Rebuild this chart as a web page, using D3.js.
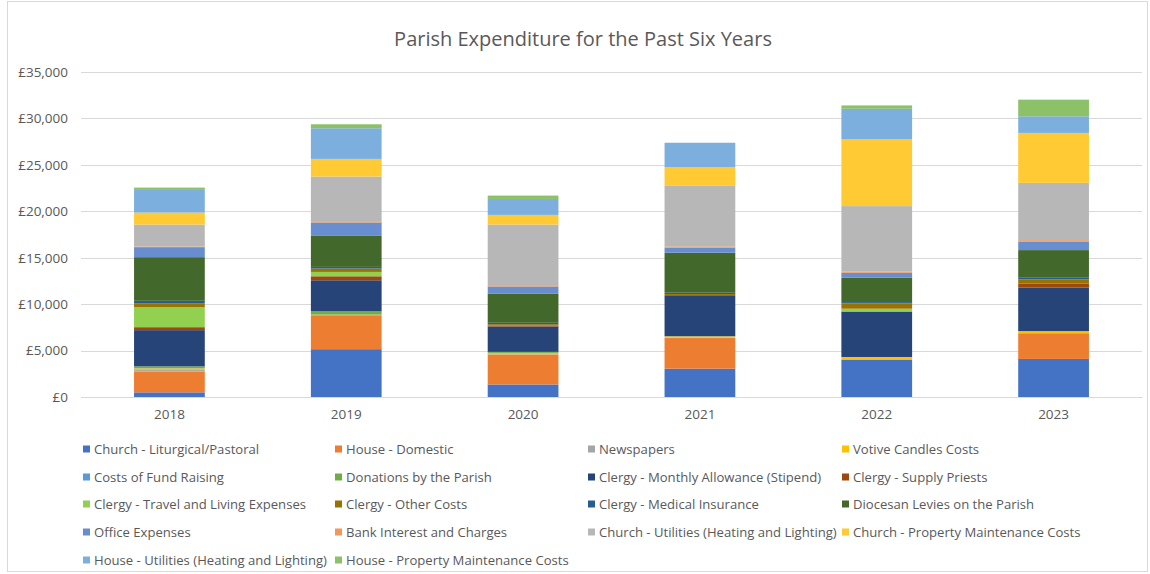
<!DOCTYPE html>
<html>
<head>
<meta charset="utf-8">
<script src="https://cdn.jsdelivr.net/npm/d3@7"></script>
<style>
  html, body { margin: 0; padding: 0; background: #fff; }
  svg { display: block; }
  text { font-family: "Open Sans", Carlito, Calibri, sans-serif; fill: #595959; }
</style>
</head>
<body>
<svg id="chart" width="1150" height="574"></svg>
<script>
// ---------- DATA ----------
const years = ["2018", "2019", "2020", "2021", "2022", "2023"];
const seriesNames = [
  "Church - Liturgical/Pastoral", "House - Domestic", "Newspapers", "Votive Candles Costs",
  "Costs of Fund Raising", "Donations by the Parish", "Clergy - Monthly Allowance (Stipend)", "Clergy - Supply Priests",
  "Clergy - Travel and Living Expenses", "Clergy - Other Costs", "Clergy - Medical Insurance", "Diocesan Levies on the Parish",
  "Office Expenses", "Bank Interest and Charges", "Church - Utilities (Heating and Lighting)", "Church - Property Maintenance Costs",
  "House - Utilities (Heating and Lighting)", "House - Property Maintenance Costs"
];
const seriesColors = [
  "#4472C4", "#ED7D31", "#A5A5A5", "#FFC000",
  "#5B9BD5", "#70AD47", "#264478", "#9E480E",
  "#92D050", "#997300", "#255E91", "#43682B",
  "#698ED0", "#F1975A", "#B7B7B7", "#FFCA33",
  "#7CAFDD", "#8CC168"
];
const churchLiturgical   = [500, 5150, 1350, 3050, 4000, 4100];
const houseDomestic      = [2250, 3650, 3230, 3300, 50, 2760];
const newspapers         = [150, 30, 30, 30, 30, 30];
const votiveCandles      = [180, 40, 140, 140, 200, 180];
const fundRaising        = [20, 0, 0, 0, 0, 0];
const donations          = [200, 360, 110, 30, 30, 30];
const clergyAllowance    = [3900, 3340, 2730, 4340, 4880, 4700];
const clergySupply       = [320, 430, 100, 100, 30, 430];
const clergyTravel       = [2150, 470, 0, 0, 290, 0];
const clergyOther        = [430, 360, 150, 100, 570, 430];
const clergyMedical      = [260, 180, 150, 140, 140, 180];
const diocesanLevies     = [4700, 3340, 3120, 4310, 2620, 2980];
const officeExpenses     = [1080, 1440, 790, 540, 540, 930];
const bankInterest       = [60, 140, 140, 140, 140, 140];
const churchUtilities    = [2370, 4810, 6530, 6570, 7040, 6170];
const churchProperty     = [1290, 1900, 1040, 1970, 7180, 5380];
const houseUtilities     = [2440, 3300, 1720, 2620, 3300, 1790];
const houseProperty      = [250, 430, 360, 0, 360, 1790];
const yTicks = [0, 5000, 10000, 15000, 20000, 25000, 30000, 35000];

const seriesValues = [
  churchLiturgical, houseDomestic, newspapers, votiveCandles,
  fundRaising, donations, clergyAllowance, clergySupply,
  clergyTravel, clergyOther, clergyMedical, diocesanLevies,
  officeExpenses, bankInterest, churchUtilities, churchProperty,
  houseUtilities, houseProperty
];

// ---------- BUILD ----------
const rows = years.map((y, i) => {
  const r = { year: y };
  seriesNames.forEach((n, k) => r[n] = seriesValues[k][i]);
  return r;
});

const svg = d3.select("#chart");
const FONT = "'Open Sans', Carlito, Calibri, sans-serif";

// outer border
svg.append("rect").attr("x", 7.5).attr("y", 1.5).attr("width", 1140).attr("height", 570)
  .attr("fill", "#fff").attr("stroke", "#D9D9D9").attr("stroke-width", 1);

const plot = { left: 81, right: 1142, top: 72, bottom: 397 };

const x = d3.scaleBand().domain(years).range([plot.left, plot.right])
  .paddingInner(0.6).paddingOuter(0.3);
const y = d3.scaleLinear().domain([0, 35000]).range([plot.bottom, plot.top]);

// title
svg.append("text").attr("x", 583).attr("y", 38)
  .attr("text-anchor", "middle").attr("dominant-baseline", "central")
  .style("font-size", "20px").text("Parish Expenditure for the Past Six Years");

// gridlines
svg.append("g").selectAll("line").data(yTicks).join("line")
  .attr("x1", plot.left).attr("x2", plot.right)
  .attr("y1", d => Math.round(y(d)) + 0.5).attr("y2", d => Math.round(y(d)) + 0.5)
  .attr("stroke", "#D9D9D9").attr("stroke-width", 1);

// y axis labels
const yAxis = d3.axisLeft(y).tickValues(yTicks).tickSize(0).tickPadding(0)
  .tickFormat(d => "£" + d3.format(",")(d));
const gy = svg.append("g").attr("transform", `translate(${plot.left - 13},0)`).call(yAxis);
gy.select(".domain").remove();
gy.selectAll("text").style("font-size", "13.5px").attr("fill", "#595959")
  .style("font-family", FONT);

// stacked bars
const stack = d3.stack().keys(seriesNames);
const stacked = stack(rows);
svg.append("g").selectAll("g").data(stacked).join("g")
  .attr("fill", (d, i) => seriesColors[i])
  .selectAll("rect").data(d => d).join("rect")
  .attr("x", d => x(d.data.year))
  .attr("width", x.bandwidth())
  .attr("y", d => y(d[1]))
  .attr("height", d => Math.max(0, y(d[0]) - y(d[1])));

// x axis
const xAxis = d3.axisBottom(x).tickSize(0).tickPadding(12);
const gx = svg.append("g").attr("transform", `translate(0,${plot.bottom})`).call(xAxis);
gx.select(".domain").attr("stroke", "#D9D9D9");
gx.selectAll("text").style("font-size", "13.5px").attr("fill", "#595959")
  .style("font-family", FONT);

// legend
const legendCols = [83, 335, 588, 842];
const legendRows = [449, 477, 504, 532, 560];
const lg = svg.append("g").selectAll("g").data(seriesNames).join("g")
  .attr("transform", (d, i) => `translate(${legendCols[i % 4]},${legendRows[Math.floor(i / 4)]})`);
lg.append("rect").attr("x", 0).attr("y", -3.5).attr("width", 7).attr("height", 7)
  .attr("fill", (d, i) => seriesColors[i]);
lg.append("text").attr("x", 11).attr("y", 0).attr("dominant-baseline", "central")
  .style("font-size", "13.1px").text(d => d);
</script>
</body>
</html>
